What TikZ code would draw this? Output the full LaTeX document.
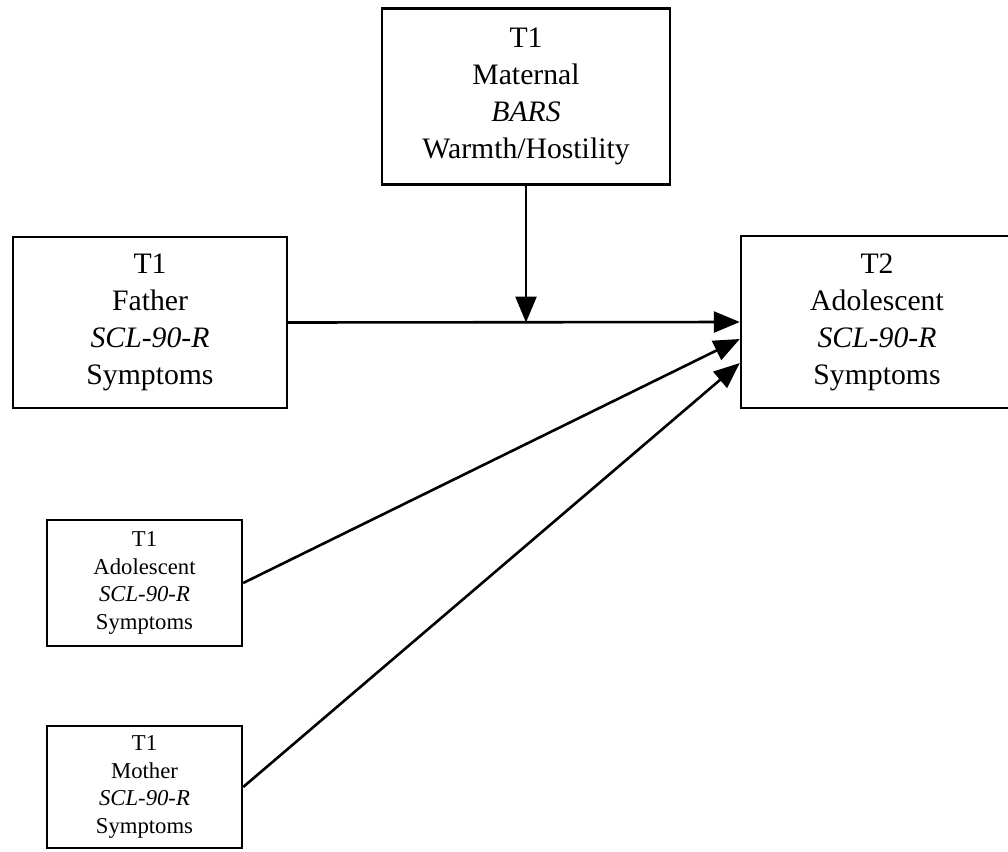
\documentclass[tikz,border=0pt]{standalone}
\usepackage{fontspec}
\setmainfont{Liberation Serif}
\usetikzlibrary{arrows.meta}
\tikzset{
  bigbox/.style   = {draw, line width=2.4pt, align=center, inner sep=0pt,
                     font=\fontsize{29.7}{37}\selectfont},
  smallbox/.style = {draw, line width=2.4pt, align=center, inner sep=0pt,
                     font=\fontsize{22.7}{27.5}\selectfont},
  patharrow/.style = {line width=2.6pt, -{Triangle[length=26pt,width=21pt]}}
}
\begin{document}
\begin{tikzpicture}[x=1pt, y=-1pt]
        \useasboundingbox (0,0) rectangle (1008,851);
        \node[bigbox, minimum width=288pt, minimum height=176pt]   (maternal) at (526, 96.5)
              {T1\\Maternal\\\textit{BARS}\\Warmth/Hostility};
        \node[bigbox, minimum width=274pt, minimum height=171pt]   (father)   at (150, 322.5)
              {T1\\Father\\\textit{SCL-90-R}\\Symptoms};
        \node[bigbox, minimum width=272pt, minimum height=172pt]   (adolT2)   at (877, 322)
              {T2\\Adolescent\\\textit{SCL-90-R}\\Symptoms};
        \node[smallbox, minimum width=195pt, minimum height=126pt] (adolT1)   at (144.5, 583)
              {T1\\Adolescent\\\textit{SCL-90-R}\\Symptoms};
        \node[smallbox, minimum width=195pt, minimum height=122pt] (mother)   at (144.5, 787)
              {T1\\Mother\\\textit{SCL-90-R}\\Symptoms};
        \coordinate (meet) at (maternal.south |- father.east);
        \draw[patharrow]    (father.east) -- (adolT2.west);
        \draw[patharrow]    (maternal.south) -- (meet);
        \draw[patharrow]    (adolT1.east) -- ([yshift=-17pt]adolT2.west);
        \draw[patharrow]    (mother.east) -- ([yshift=-41pt]adolT2.west);
      \end{tikzpicture}
\end{document}
